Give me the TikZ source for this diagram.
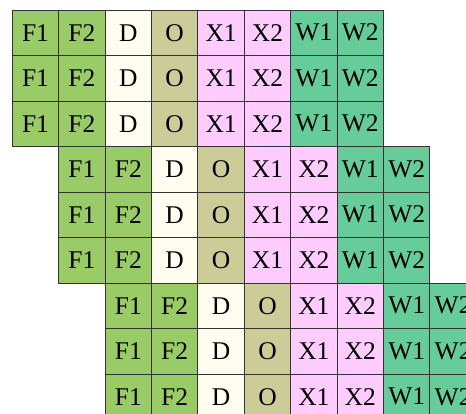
\documentclass[tikz,border=0pt]{standalone}
\usepackage{fontspec}
\setmainfont{Liberation Serif}
\definecolor{fcol}{HTML}{99CC66}
\definecolor{dcol}{HTML}{FFFDF0}
\definecolor{ocol}{HTML}{CCCC99}
\definecolor{xcol}{HTML}{FFCCFF}
\definecolor{wcol}{HTML}{66CC99}
\definecolor{edge}{HTML}{333333}
\tikzset{
  cell/.style={draw=edge, line width=0.9pt, minimum width=46.4pt, minimum height=45.5pt,
    inner sep=0pt, outer sep=0pt, font=\fontsize{25.5}{26}\selectfont, text=black},
}
\begin{document}
\begin{tikzpicture}[x=1pt,y=1pt]
\useasboundingbox (0,0) rectangle (466,-414);
\fill[white] (0,0) rectangle (466,-414);
\clip (0,0) rectangle (466,-414);
\foreach \b in {0,1,2}{
  \foreach \r in {0,1,2}{
    \foreach \c/\t/\col in {0/F1/fcol,1/F2/fcol,2/D/dcol,3/O/ocol,4/X1/xcol,5/X2/xcol,6/W1/wcol,7/W2/wcol}{
      \node[cell, fill=\col] (c-\b-\r-\c) at ({12.3+(\b+\c)*46.4+23.2},{-(10+(3*\b+\r)*45.5+22.75)}) {\t};
    }
  }
}
\end{tikzpicture}
\end{document}
